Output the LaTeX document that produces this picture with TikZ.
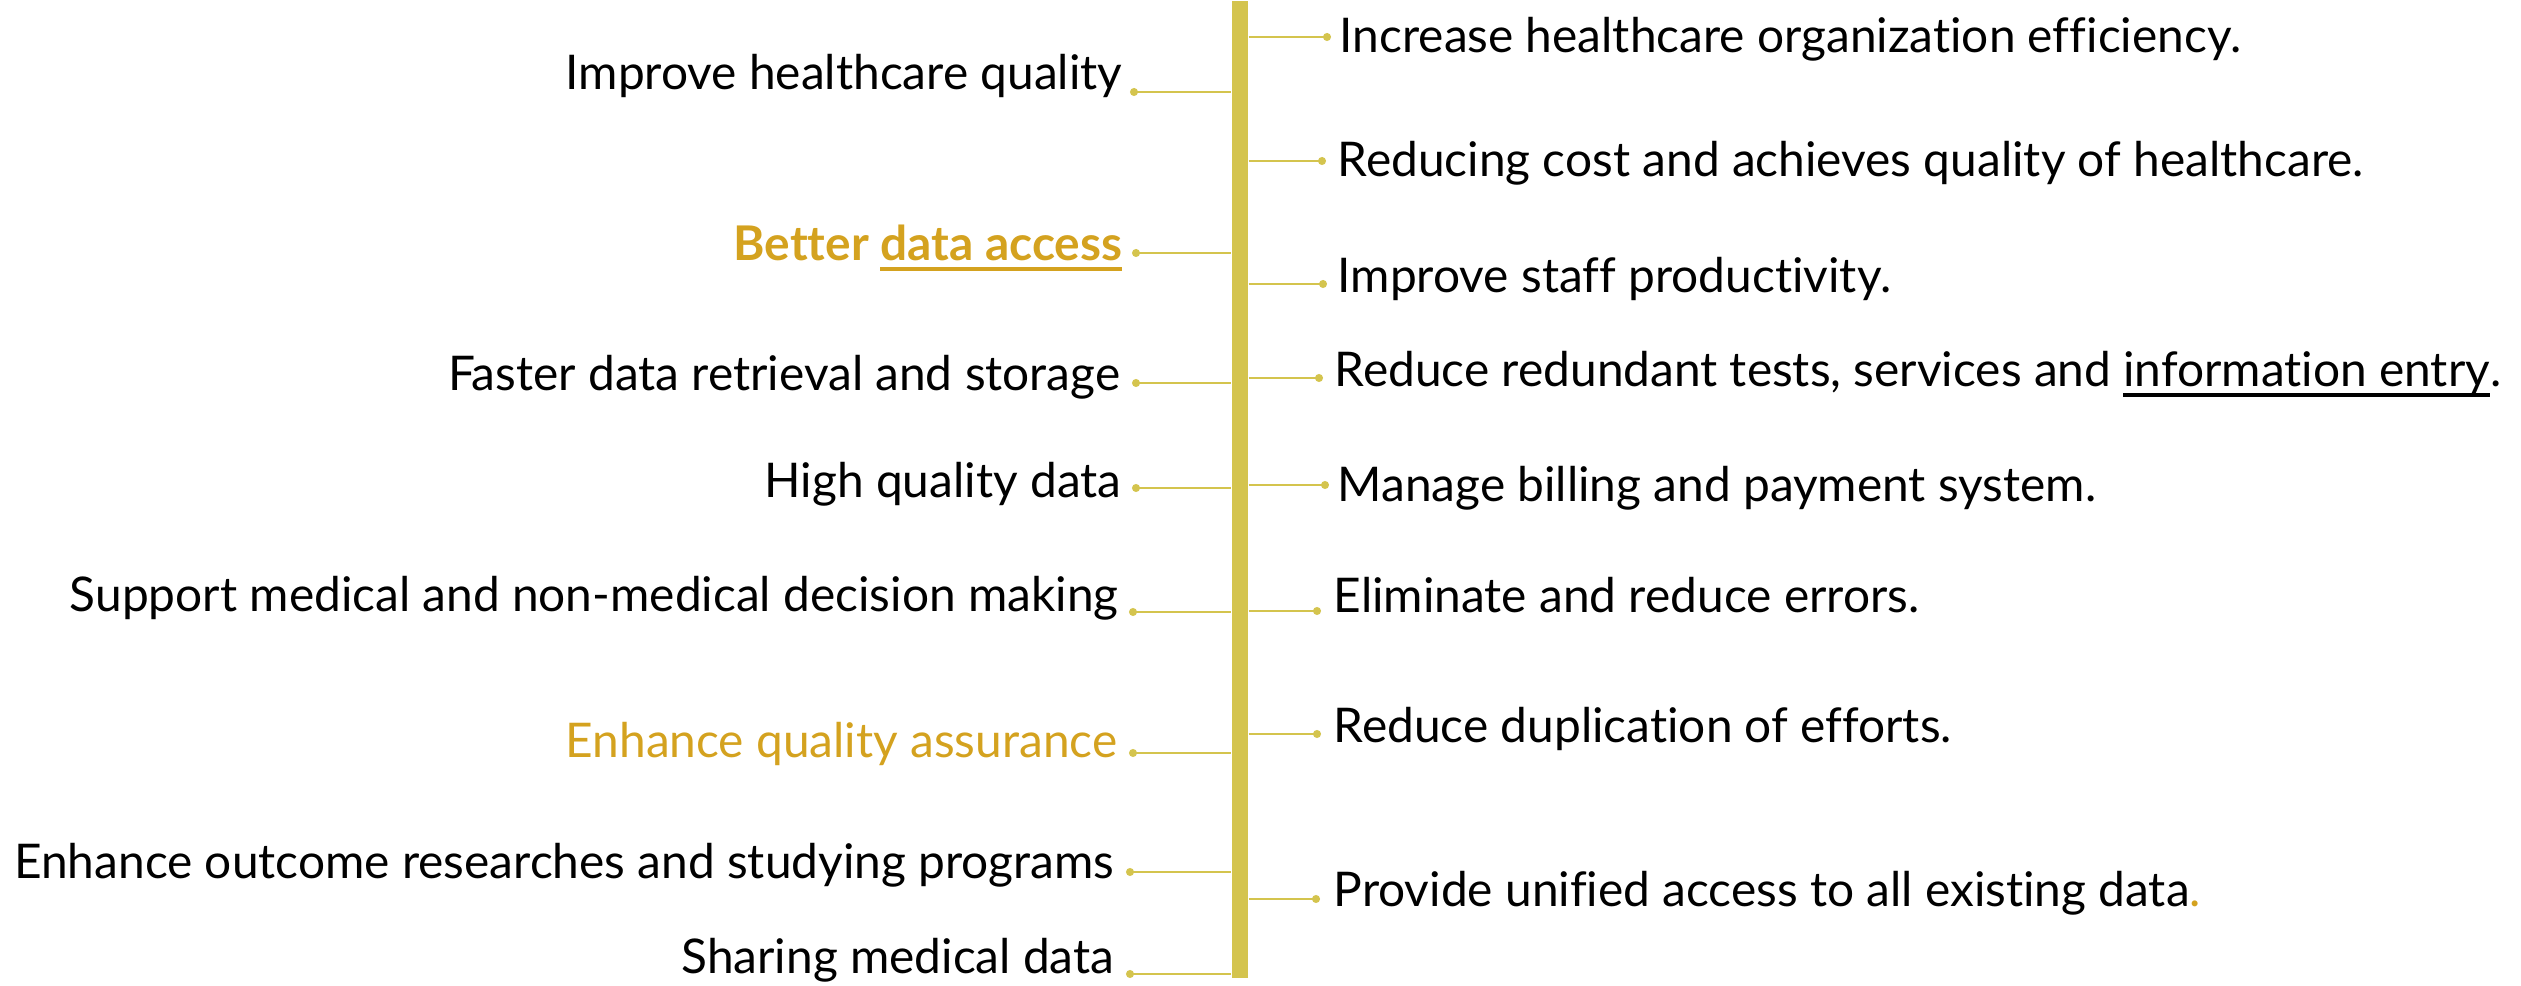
\documentclass[tikz,border=0pt]{standalone}
\usepackage{fontspec}
\setmainfont{Lato}[Ligatures=NoCommon]
\newcommand{\ulbar}[1]{\setbox0\hbox{#1}\rlap{\rule[-2.8pt]{\wd0}{1.1pt}}\box0}
\definecolor{barcol}{HTML}{D4C44E}
\definecolor{goldtxt}{HTML}{D4A21F}
\tikzset{
  bar/.style={fill=barcol, inner sep=0pt, minimum width=.16cm, minimum height=9.77cm, anchor=north},
  dot/.style={circle, fill=barcol, inner sep=0pt, minimum size=2.3pt},
  branch/.style={draw=barcol, line width=.5pt},
  ltxt/.style={anchor=base east, inner sep=0pt, font=\fontsize{13.6pt}{16pt}\selectfont},
  rtxt/.style={anchor=base west, inner sep=0pt, font=\fontsize{13.6pt}{16pt}\selectfont}
}
\begin{document}
\begin{tikzpicture}[x=.01cm, y=-.01cm]
 \useasboundingbox (0,0) rectangle (2521,986);
 \node[bar] (bar) at (1240,0) {};
 % left side
 \node[dot] (l1) at (1134,92) {};
 \node[dot] (l2) at (1136,253) {};
 \node[dot] (l3) at (1136,383) {};
 \node[dot] (l4) at (1136,488) {};
 \node[dot] (l5) at (1133,612) {};
 \node[dot] (l6) at (1133,753) {};
 \node[dot] (l7) at (1130,872) {};
 \node[dot] (l8) at (1130,974) {};
 \foreach \n in {1,...,8}
 {
     \draw[branch](l\n.center)--(l\n -| bar.west);
 }
 \node[ltxt] (tl1) at (1123,90) {Improve healthcare quality};
 \node[ltxt, text=goldtxt, font=\fontsize{13.6pt}{16pt}\selectfont\bfseries] (tl2) at (1123,261) {Better \ulbar{data access}};
 \node[ltxt] (tl3) at (1121,391) {Faster data retrieval and storage};
 \node[ltxt] (tl4) at (1122,498) {High quality data};
 \node[ltxt] (tl5) at (1119,612) {Support medical and non-medical decision making};
 \node[ltxt, text=goldtxt] (tl6) at (1118,758) {Enhance quality assurance};
 \node[ltxt] (tl7) at (1115,879) {Enhance outcome researches and studying programs};
 \node[ltxt] (tl8) at (1115,974) {Sharing medical data};
 % right side
 \node[dot] (r1) at (1327,37) {};
 \node[dot] (r2) at (1322,161) {};
 \node[dot] (r3) at (1323,284) {};
 \node[dot] (r4) at (1319,378) {};
 \node[dot] (r5) at (1325,485) {};
 \node[dot] (r6) at (1317,611) {};
 \node[dot] (r7) at (1317,734) {};
 \node[dot] (r8) at (1316,899) {};
 \foreach \n in {1,...,8}
 {
     \draw[branch](r\n -| bar.east)--(r\n.center);
 }
 \node[rtxt] (tr1) at (1339,53) {Increase healthcare organization efficiency.};
 \node[rtxt] (tr2) at (1337,177) {Reducing cost and achieves quality of healthcare.};
 \node[rtxt] (tr3) at (1337,293) {Improve staff productivity.};
 \node[rtxt] (tr4) at (1334,387) {Reduce redundant tests, services and \ulbar{information entry}.};
 \node[rtxt] (tr5) at (1337,502) {Manage billing and payment system.};
 \node[rtxt] (tr6) at (1333,613) {Eliminate and reduce errors.};
 \node[rtxt] (tr7) at (1333,743) {Reduce duplication of efforts.};
 \node[rtxt] (tr8) at (1333,907) {Provide unified access to all existing data\textcolor{goldtxt}{.}};
\end{tikzpicture}
\end{document}
